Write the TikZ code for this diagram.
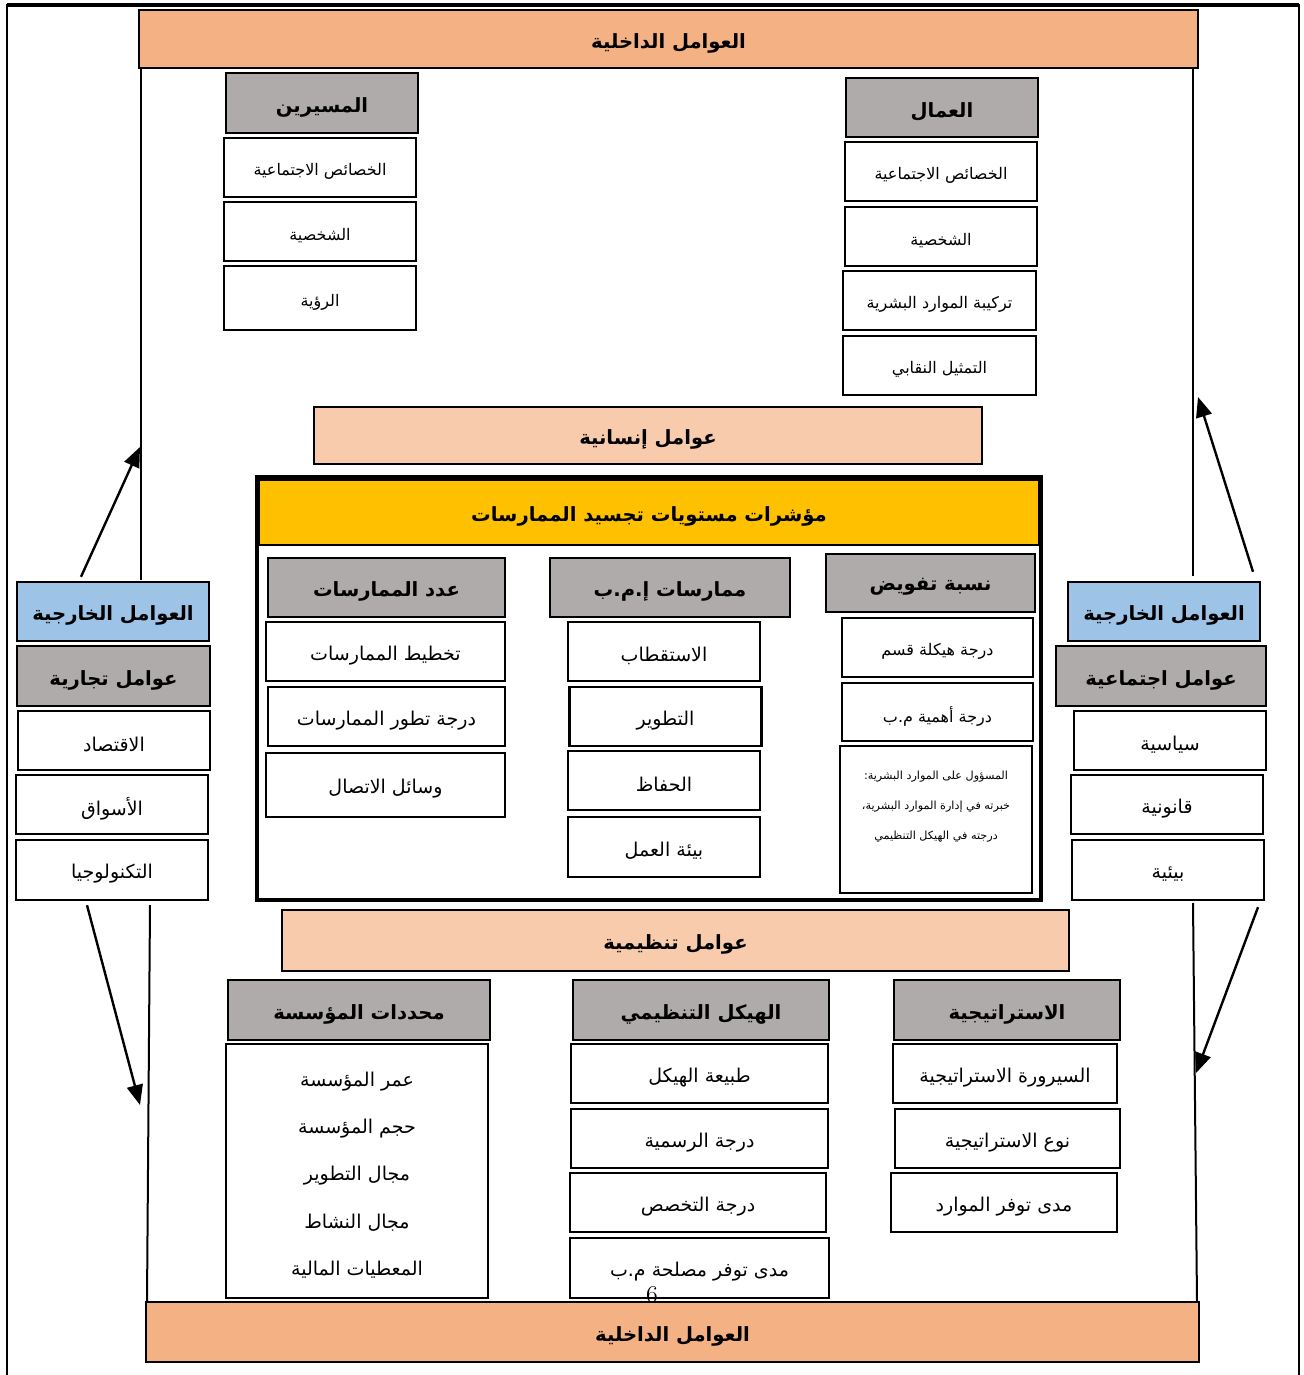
\documentclass[tikz,border=0pt]{standalone}
\usepackage{fontspec}
\usepackage{xcolor}
\usetikzlibrary{arrows.meta}
\newfontfamily\arabicfont[Script=Arabic]{DejaVu Sans}
\TeXXeTstate=1
\newcommand{\artext}[1]{\raisebox{-2pt}[\height][\depth]{\beginR #1\endR}}
\definecolor{bandorange}{RGB}{244,177,131}
\definecolor{bandpeach}{RGB}{248,203,173}
\definecolor{headgray}{RGB}{175,171,171}
\definecolor{headblue}{RGB}{157,195,230}
\definecolor{headyellow}{RGB}{255,192,0}

\begin{document}
\begin{tikzpicture}[x=0.5pt, y=-0.5pt,
    box/.style={draw, line width=1.2pt, inner sep=0pt, font=\arabicfont\fontsize{9.5}{11}\selectfont},
    cell/.style={box, fill=white},
    smallcell/.style={cell, font=\arabicfont\fontsize{8}{10}\selectfont},
    hdr/.style={box, fill=headgray, font=\arabicfont\bfseries\fontsize{9.8}{12}\selectfont},
    band/.style={hdr, fill=bandorange},
    frameline/.style={line width=1pt},
    flow/.style={line width=1.2pt, -{Triangle[length=10pt, width=8pt]}}]
    \useasboundingbox (0,0) rectangle (1303,1375);

    % frame
    \draw[frameline] (7,1375) -- (7,5) -- (1299,5) -- (1299,1375);
    \draw[line width=1.6pt] (7,5) -- (1299,5);
    \draw[frameline] (141,68) -- (141,580);
    \draw[frameline] (1193,68) -- (1193,576);
    \draw[frameline] (150,905) -- (147,1302);
    \draw[frameline] (1193,903) -- (1197,1302);

    % internal factors, top
    \node[band, minimum width=529.5pt, minimum height=29pt] (intop) at (668.5,39) {\artext{العوامل الداخلية}};

    % managers
    \node[hdr, minimum width=96pt, minimum height=30pt] (mgr) at (322,103) {\artext{المسيرين}};
    \node[smallcell, minimum width=96pt, minimum height=29.5pt] (mgrsoc) at (320,167.5) {\artext{الخصائص الاجتماعية}};
    \node[smallcell, minimum width=96pt, minimum height=29.5pt] (mgrpers) at (320,231.5) {\artext{الشخصية}};
    \node[smallcell, minimum width=96pt, minimum height=32pt] (mgrvis) at (320,298) {\artext{الرؤية}};

    % workers
    \node[hdr, minimum width=96pt, minimum height=29.5pt] (wrk) at (942,107.5) {\artext{العمال}};
    \node[smallcell, minimum width=96pt, minimum height=29.5pt] (wrksoc) at (941,171.5) {\artext{الخصائص الاجتماعية}};
    \node[smallcell, minimum width=96pt, minimum height=29.5pt] (wrkpers) at (941,236.5) {\artext{الشخصية}};
    \node[smallcell, minimum width=96.5pt, minimum height=29.5pt] (wrkcomp) at (939.5,300.5) {\artext{تركيبة الموارد البشرية}};
    \node[smallcell, minimum width=96.5pt, minimum height=29.5pt] (wrkunion) at (939.5,365.5) {\artext{التمثيل النقابي}};

    \node[band, fill=bandpeach, minimum width=334pt, minimum height=28.5pt] (human) at (648,435.5) {\artext{عوامل إنسانية}};

    % indicators
    \node[draw, line width=2pt, minimum width=392pt, minimum height=211.5pt] (core) at (649,688.5) {};
    \node[hdr, fill=headyellow, minimum width=390pt, minimum height=32.5pt] (corehead) at (649,512.5) {\artext{مؤشرات مستويات تجسيد الممارسات}};

    \node[hdr, minimum width=118.5pt, minimum height=29.5pt] (num) at (386.5,587.5) {\artext{عدد الممارسات}};
    \node[cell, minimum width=119.5pt, minimum height=29.5pt] (numplan) at (385.5,651.5) {\artext{تخطيط الممارسات}};
    \node[cell, minimum width=118.5pt, minimum height=29.5pt] (numdev) at (386.5,716.5) {\artext{درجة تطور الممارسات}};
    \node[cell, minimum width=119.5pt, minimum height=32pt] (numcom) at (385.5,785) {\artext{وسائل الاتصال}};

    \node[hdr, minimum width=120pt, minimum height=29.5pt] (prac) at (670,587.5) {\artext{ممارسات إ.م.ب}};
    \node[cell, minimum width=96pt, minimum height=29.5pt] (pracrec) at (664,651.5) {\artext{الاستقطاب}};
    \node[cell, minimum width=96pt, minimum height=29.5pt] (pracdev) at (665.5,716.5) {\artext{التطوير}};
    \node[cell, minimum width=96pt, minimum height=29.5pt] (prackeep) at (664,780.5) {\artext{الحفاظ}};
    \node[cell, minimum width=96pt, minimum height=30pt] (pracenv) at (664,847) {\artext{بيئة العمل}};

    \node[hdr, minimum width=104.5pt, minimum height=29pt] (deleg) at (930.5,583) {\artext{نسبة تفويض}};
    \node[smallcell, minimum width=95.5pt, minimum height=29.5pt] (delegstr) at (937.5,647.5) {\artext{درجة هيكلة قسم}};
    \node[smallcell, minimum width=95.5pt, minimum height=29pt] (delegimp) at (937.5,712) {\artext{درجة أهمية م.ب}};
    \node[cell, minimum width=96pt, minimum height=73.5pt, align=center,
          font=\arabicfont\fontsize{5.6}{15}\selectfont] (delegresp) at (936,819.5)
          {\artext{المسؤول على الموارد البشرية:}\\\artext{خبرته في إدارة الموارد البشرية،}\\\artext{درجته في الهيكل التنظيمي}\\[3pt]};

    % external factors, left
    \node[hdr, fill=headblue, minimum width=96pt, minimum height=29.5pt] (lext) at (113,611.5) {\artext{العوامل الخارجية}};
    \node[hdr, minimum width=96.5pt, minimum height=30pt] (lcom) at (113.5,676) {\artext{عوامل تجارية}};
    \node[cell, minimum width=96pt, minimum height=29.5pt] (leco) at (114,740.5) {\artext{الاقتصاد}};
    \node[cell, minimum width=96pt, minimum height=29.5pt] (lmkt) at (112,804.5) {\artext{الأسواق}};
    \node[cell, minimum width=96pt, minimum height=30pt] (ltech) at (112,870) {\artext{التكنولوجيا}};

    % external factors, right
    \node[hdr, fill=headblue, minimum width=96pt, minimum height=29.5pt] (rext) at (1164,611.5) {\artext{العوامل الخارجية}};
    \node[hdr, minimum width=105pt, minimum height=30pt] (rsoc) at (1161,676) {\artext{عوامل اجتماعية}};
    \node[cell, minimum width=96pt, minimum height=29.5pt] (rpol) at (1170,740.5) {\artext{سياسية}};
    \node[cell, minimum width=96pt, minimum height=29.5pt] (rlaw) at (1167,804.5) {\artext{قانونية}};
    \node[cell, minimum width=96pt, minimum height=30pt] (renv) at (1168,870) {\artext{بيئية}};

    \node[band, fill=bandpeach, minimum width=393.5pt, minimum height=30.5pt] (org) at (675.5,940.5) {\artext{عوامل تنظيمية}};

    % firm
    \node[hdr, minimum width=131pt, minimum height=30pt] (firm) at (359,1010) {\artext{محددات المؤسسة}};
    \node[cell, minimum width=131pt, minimum height=127pt, align=center,
          font=\arabicfont\fontsize{9.5}{23.6}\selectfont] (firmlist) at (357,1171)
          {\artext{عمر المؤسسة}\\\artext{حجم المؤسسة}\\\artext{مجال التطوير}\\\artext{مجال النشاط}\\\artext{المعطيات المالية}};

    % structure
    \node[hdr, minimum width=128pt, minimum height=30pt] (struct) at (701,1010) {\artext{الهيكل التنظيمي}};
    \node[cell, minimum width=128.5pt, minimum height=29.5pt] (structnat) at (699.5,1073.5) {\artext{طبيعة الهيكل}};
    \node[cell, minimum width=128.5pt, minimum height=29.5pt] (structform) at (699.5,1138.5) {\artext{درجة الرسمية}};
    \node[cell, minimum width=128pt, minimum height=29.5pt] (structspec) at (698,1202.5) {\artext{درجة التخصص}};
    \node[cell, minimum width=129.5pt, minimum height=30pt] (structhr) at (699.5,1268) {\artext{مدى توفر مصلحة م.ب}};

    % strategy
    \node[hdr, minimum width=113pt, minimum height=30pt] (strat) at (1007,1010) {\artext{الاستراتيجية}};
    \node[cell, minimum width=112pt, minimum height=29.5pt] (stratproc) at (1005,1073.5) {\artext{السيرورة الاستراتيجية}};
    \node[cell, minimum width=112.5pt, minimum height=29.5pt] (strattype) at (1007.5,1138.5) {\artext{نوع الاستراتيجية}};
    \node[cell, minimum width=113pt, minimum height=29.5pt] (stratres) at (1004,1202.5) {\artext{مدى توفر الموارد}};

    \node[font=\fontsize{12}{12}\selectfont, inner sep=0pt] (pagenum) at (652,1295) {6};

    % internal factors, bottom
    \node[band, minimum width=526.5pt, minimum height=30pt] (inbot) at (672.5,1332) {\artext{العوامل الداخلية}};

    % arrows
    \coordinate (ltip) at (140,447);
    \coordinate (rtip) at (1198,397);
    \coordinate (lbtip) at (140,1105);
    \coordinate (rbtip) at (1196,1073);
    \draw[flow] ([xshift=-16pt, yshift=2pt]lext.north) -- (ltip);
    \draw[flow] ([xshift=44.5pt, yshift=4.5pt]rext.north) -- (rtip);
    \draw[flow] ([xshift=-12.5pt, yshift=-2pt]ltech.south) -- (lbtip);
    \draw[flow] ([xshift=45pt, yshift=-3pt]renv.south) -- (rbtip);
\end{tikzpicture}
\end{document}
